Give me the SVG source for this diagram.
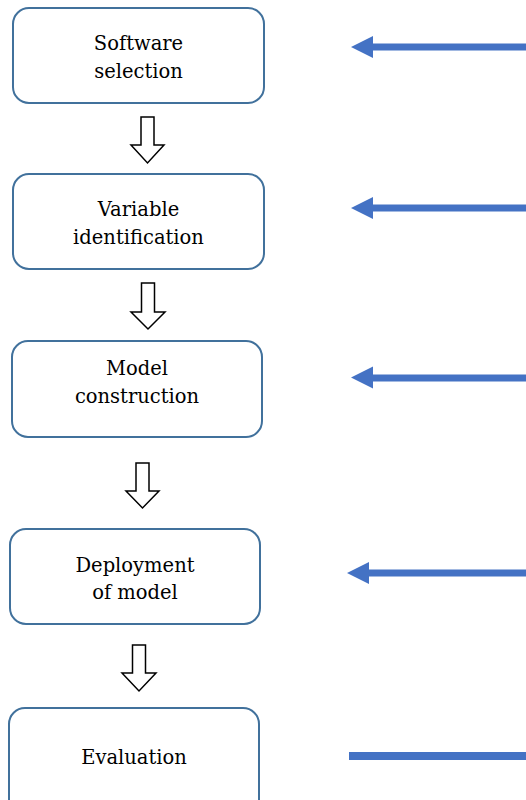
<svg xmlns="http://www.w3.org/2000/svg" width="526" height="800" viewBox="0 0 526 800">
<defs>
<style>
.box{fill:#fff;stroke:#41719C;stroke-width:2}
.t{font-size:19.5px;fill:#000;text-anchor:middle}
.down{fill:#fff;stroke:#000;stroke-width:1.5;stroke-linejoin:miter}
.blue{fill:#4472C4}
</style>
</defs>
<rect width="526" height="800" fill="#fff"/>
<g font-family="'DejaVu Serif', serif">
<g id="node-software">
<rect class="box" x="13" y="8" width="251" height="95" rx="16"/>
<text class="t" x="138.5" y="50">Software</text>
<text class="t" x="138.5" y="78">selection</text>
</g>
<g id="node-variable">
<rect class="box" x="13" y="174" width="251" height="95" rx="16"/>
<text class="t" x="138.5" y="216">Variable</text>
<text class="t" x="138.5" y="244">identification</text>
</g>
<g id="node-model">
<rect class="box" x="12" y="341" width="250" height="96" rx="16"/>
<text class="t" x="137" y="375">Model</text>
<text class="t" x="137" y="403">construction</text>
</g>
<g id="node-deployment">
<rect class="box" x="10" y="529" width="250" height="95" rx="16"/>
<text class="t" x="135" y="572">Deployment</text>
<text class="t" x="135" y="599">of model</text>
</g>
<g id="node-evaluation">
<rect class="box" x="9" y="708" width="250" height="110" rx="16"/>
<text class="t" x="134" y="764">Evaluation</text>
</g>
</g>
<g id="connectors">
<path class="down" d="M141 117 H154 V145 H164 L147.5 163 L131 145 H141 Z"/>
<path class="down" d="M141.5 283 H154.5 V312 H165 L148 329 L131 312 H141.5 Z"/>
<path class="down" d="M136 463 H149 V491 H159 L142.5 508 L126 491 H136 Z"/>
<path class="down" d="M132.5 645 H145.5 V673 H156 L139 691 L122 673 H132.5 Z"/>
<path class="blue" d="M526 43.5 H373 V36 L351 47 L373 58 V50.5 H526 Z"/>
<path class="blue" d="M526 204.5 H373 V197 L351 208 L373 219 V211.5 H526 Z"/>
<path class="blue" d="M526 374.5 H373 V366.5 L351 377.5 L373 388.5 V381.5 H526 Z"/>
<path class="blue" d="M526 569.5 H369 V562 L347 573 L369 584 V576.5 H526 Z"/>
<rect class="blue" x="349" y="752" width="177" height="8"/>
</g>
</svg>
